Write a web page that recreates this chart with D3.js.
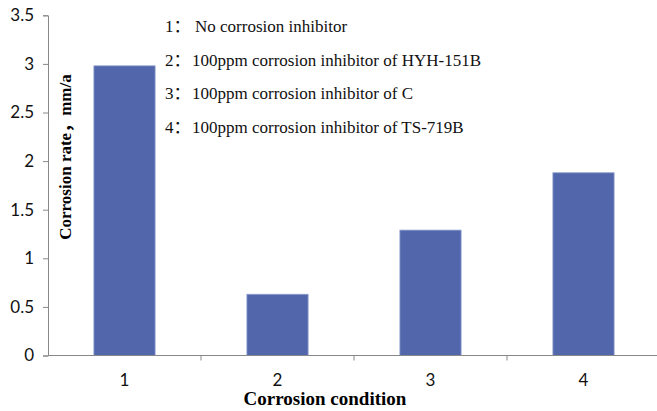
<!DOCTYPE html>
<html>
<head>
<meta charset="utf-8">
<script src="https://cdn.jsdelivr.net/npm/d3@7"></script>
<style>
  body { margin: 0; background: #fff; }
  svg { display: block; }
</style>
</head>
<body>
<svg id="chart" width="657" height="411"></svg>
<script>
// chart data
const conditions = ["1", "2", "3", "4"];
const corrosionRates = [2.98, 0.63, 1.29, 1.88];
const yTicks = [0, 0.5, 1, 1.5, 2, 2.5, 3, 3.5];
const legendLines = [
    ["1：", "No corrosion inhibitor"],
    ["2：", "100ppm corrosion inhibitor of HYH-151B"],
    ["3：", "100ppm corrosion inhibitor of C"],
    ["4：", "100ppm corrosion inhibitor of TS-719B"]
];

const svg = d3.select("#chart");
const plotLeft = 48, plotRight = 660, plotTop = 15.3, plotBottom = 355.5;
const serif = "'Liberation Serif', 'Times New Roman', 'Noto Sans CJK SC', serif";
const sans = "Lato, 'Liberation Sans', sans-serif";

const x = d3.scaleBand().domain(conditions).range([plotLeft, plotRight]).paddingInner(0).paddingOuter(0);
const y = d3.scaleLinear().domain([0, 3.5]).range([plotBottom, plotTop]);

// y axis
const yAxis = svg.append("g")
    .attr("transform", `translate(${plotLeft},0)`)
    .call(d3.axisLeft(y).tickValues(yTicks).tickSize(5).tickPadding(9).tickFormat(d3.format("")));
yAxis.select(".domain").attr("stroke", "#888").attr("stroke-width", 1);
yAxis.selectAll(".tick line").attr("stroke", "#888");
yAxis.selectAll(".tick text").attr("font-family", sans).attr("font-size", 17).attr("fill", "#111");

// bars
const barW = x.bandwidth() * 0.4;
svg.append("g")
    .selectAll("rect")
    .data(corrosionRates)
    .join("rect")
    .attr("x", (d, i) => x(conditions[i]) + (x.bandwidth() - barW) / 2)
    .attr("y", d => y(d))
    .attr("width", barW)
    .attr("height", d => plotBottom - y(d))
    .attr("fill", "#5266AB")
    .attr("stroke", "#8d9fcf")
    .attr("stroke-width", 0.8);

// x axis: ticks at category boundaries
const xg = svg.append("g");
xg.append("line")
    .attr("x1", plotLeft).attr("x2", plotRight)
    .attr("y1", plotBottom).attr("y2", plotBottom)
    .attr("stroke", "#888");
xg.selectAll("line.tk")
    .data(conditions.slice(1))
    .join("line")
    .attr("class", "tk")
    .attr("x1", d => x(d)).attr("x2", d => x(d))
    .attr("y1", plotBottom).attr("y2", plotBottom + 5)
    .attr("stroke", "#888");
xg.selectAll("text")
    .data(conditions)
    .join("text")
    .attr("x", d => x(d) + x.bandwidth() / 2)
    .attr("y", 386)
    .attr("text-anchor", "middle")
    .attr("font-family", sans)
    .attr("font-size", 17)
    .attr("fill", "#111")
    .text(d => d);

// axis titles
svg.append("text")
    .attr("x", 325).attr("y", 405)
    .attr("text-anchor", "middle")
    .attr("font-family", serif).attr("font-weight", "bold").attr("font-size", 19)
    .text("Corrosion condition");

svg.append("text")
    .attr("transform", "translate(71,157) rotate(-90)")
    .attr("text-anchor", "middle")
    .attr("font-family", serif).attr("font-weight", "bold").attr("font-size", 17)
    .text("Corrosion rate，mm/a");

// legend text
const leg = svg.append("g").attr("font-family", serif).attr("font-size", 17).attr("fill", "#111");
legendLines.forEach((l, i) => {
    const yy = 32 + i * 33.6;
    leg.append("text").attr("x", 165).attr("y", yy).text(l[0]);
    leg.append("text").attr("x", i === 0 ? 195 : 192).attr("y", yy).text(l[1]);
});
</script>
</body>
</html>
